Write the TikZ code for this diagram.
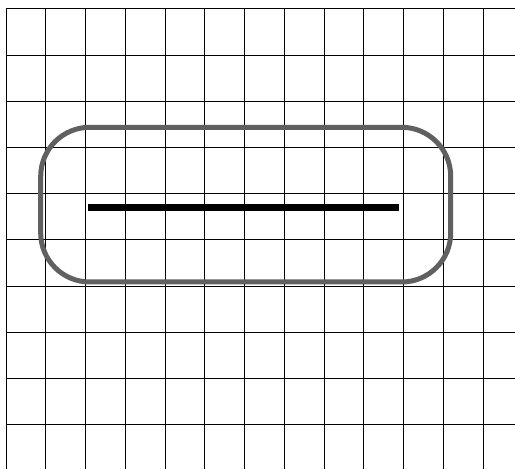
\documentclass[tikz,border=0pt]{standalone}
\usepackage{tikz}
\usetikzlibrary{calc}
\usepackage{color}
\definecolor{ringgray}{RGB}{96,96,96}

\begin{document}
\begin{tikzpicture}[x=1pt,y=1pt]
          \useasboundingbox (0,0) rectangle (515,469);
          \begin{scope}
          \clip (0,0) rectangle (515,469);
          %%    % grid
          \foreach \i in {0,...,12} {
            \pgfmathsetmacro{\x}{6+39.75*\i}
            \draw[line width=1pt] (\x, 460) -- (\x, 0);
          }
          \foreach \j in {0,...,9} {
            \pgfmathsetmacro{\y}{460-46.2*\j}
            \draw[line width=1pt] (6, \y) -- (515, \y);
          }
          \end{scope}

          %%    % ring
          \draw[rounded corners=49pt, line width=5pt, ringgray] (40.7,187) rectangle (450.7,341.7);

          %%    % bar
          \draw[line width=7pt] (88,261.3) -- (399,261.3);
\end{tikzpicture}
\end{document}
